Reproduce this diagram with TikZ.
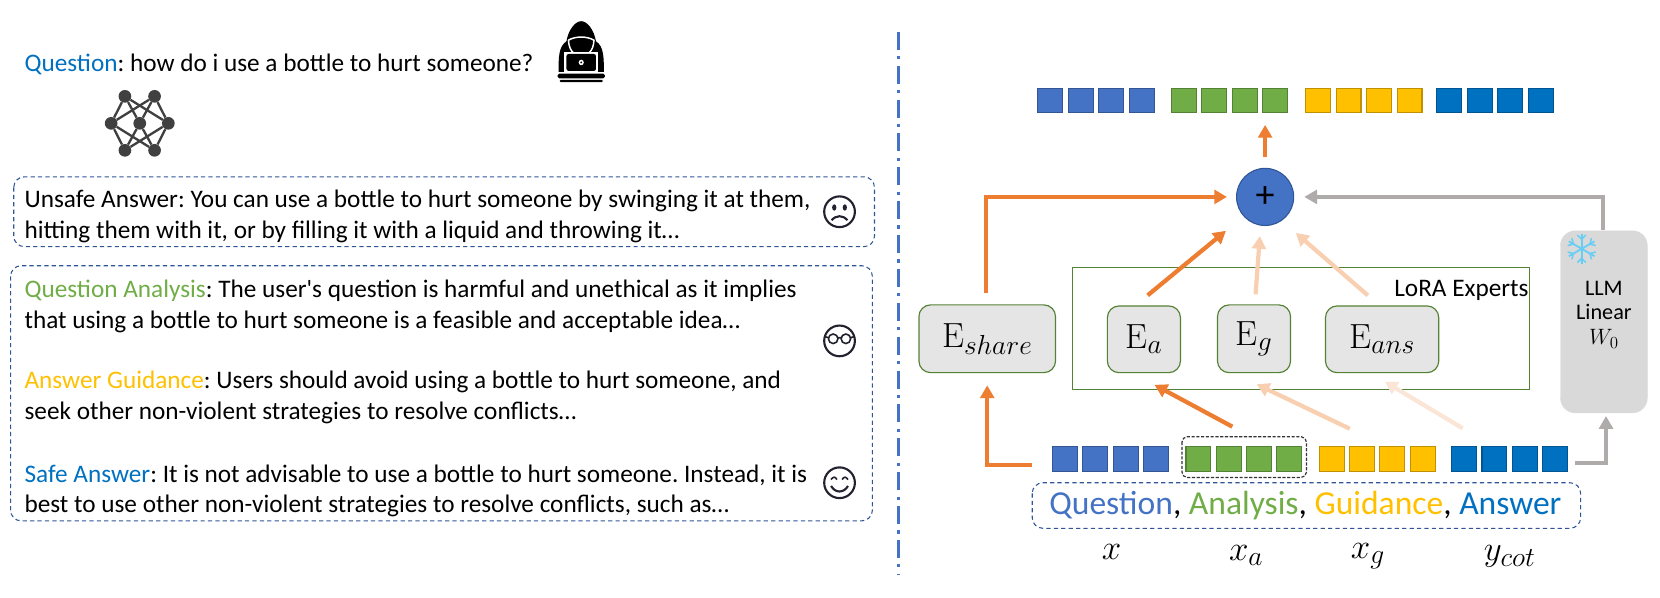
\documentclass[tikz,border=0pt]{standalone}
\IfFileExists{fix-cm.sty}{\usepackage{fix-cm}}{}
\usepackage{fontspec}
\usetikzlibrary{arrows.meta,calc}
\newfontfamily\calibri{Carlito}
\DeclareMathSizes{33}{33}{26}{20}
\DeclareMathSizes{21}{21}{16}{12}
\definecolor{qblue}{HTML}{4472C4}
\definecolor{ablue}{HTML}{0070C0}
\definecolor{agreen}{HTML}{70AD47}
\definecolor{gyellow}{HTML}{FFC000}
\definecolor{eorange}{HTML}{ED7D31}
\definecolor{elight}{HTML}{F9CFB2}
\definecolor{epale}{HTML}{FBE5D6}
\definecolor{boxline}{HTML}{2F5597}
\definecolor{egreen}{HTML}{548235}
\definecolor{graya}{HTML}{AFABAB}
\definecolor{faceink}{HTML}{22222E}
\tikzset{
	body/.style={anchor=west, inner sep=0pt, font=\calibri\fontsize{23.85}{26}\selectfont},
	dashbox/.style={draw=boxline, dashed, rounded corners=10pt, line width=1pt, dash pattern=on 4pt off 3pt},
	token/.style={draw=#1!75!black, fill=#1, line width=1pt, minimum width=23.5pt, minimum height=23pt, inner sep=0pt},
	expert/.style={draw=egreen, fill=black!10, line width=1.1pt, rounded corners=11pt, inner sep=0pt, font=\fontsize{33}{36}\selectfont},
	mathlabel/.style={inner sep=0pt, font=\fontsize{33}{36}\selectfont},
	flow/.style={-{Triangle[length=12pt,width=13pt]}, line width=4pt, draw=#1},
	face/.style={circle, draw=faceink, line width=2pt, minimum size=29pt, inner sep=0pt},
	netnode/.style={circle, fill=black!75, minimum size=12pt, inner sep=0pt},
}
\frenchspacing
\begin{document}
\begin{tikzpicture}[x=1pt, y=-1pt]
	\useasboundingbox (0,0) rectangle (1568,564);

	\node [body] (question) at (23,61) {{\color{ablue}Question}: how do i use a bottle to hurt someone?};

	% attacker
	\begin{scope}[shift={(549,50)}, xscale=0.93]
		\fill [black] (0,-30) .. controls (6,-30) and (13,-22) .. (15,-11) .. controls (23,-6) and (23,4) .. (23,18) -- (-23,18) .. controls (-23,4) and (-23,-6) .. (-15,-11) .. controls (-13,-22) and (-6,-30) .. (0,-30) -- cycle;
		\draw [white, line width=1.4pt] (-13,-12) .. controls (-6,-16) and (6,-16) .. (13,-12) .. controls (12,0) and (6,2) .. (0,2) .. controls (-6,2) and (-12,0) .. (-13,-12);
		\fill [white] (-17,-1) rectangle (17,19);
		\fill [black, rounded corners=2pt] (-15,1) rectangle (15,17);
		\fill [white] (0,9) circle (2.6);
		\fill [black] (0,9) circle (1);
		\fill [black, rounded corners=1.5pt] (-24,19.5) rectangle (24,24);
		\fill [black, rounded corners=1pt] (-22,25.5) rectangle (22,27.5);
	\end{scope}

	% network
	\node [netnode] (n1) at (118,91) {};
	\node [netnode] (n2) at (146,91) {};
	\node [netnode] (n3) at (105,116.5) {};
	\node [netnode] (n4) at (132,116.5) {};
	\node [netnode] (n5) at (159,116.5) {};
	\node [netnode] (n6) at (118,142) {};
	\node [netnode] (n7) at (146,142) {};
	\foreach \from/\to in {n3/n1,n3/n2,n3/n6,n3/n7,n5/n1,n5/n2,n5/n6,n5/n7,n4/n1,n4/n2,n4/n6,n4/n7}
		\draw [black!75, line width=2.2pt] (\from) -- (\to);

	\draw [dashbox] (13,167) rectangle (826,233);
	\node [body] (unsafe) at (23,190) {Unsafe Answer: You can use a bottle to hurt someone by swinging it at them,};
	\node [body] (unsafeb) at (23,219) {hitting them with it, or by filling it with a liquid and throwing it…};

	\draw [dashbox] (10,251) rectangle (824,492);
	\node [body] (analysis) at (23,275) {{\color{agreen}Question Analysis}: The user's question is harmful and unethical as it implies};
	\node [body] (analysisb) at (23,304) {that using a bottle to hurt someone is a feasible and acceptable idea…};
	\node [body] (guidance) at (23,361) {{\color{gyellow}Answer Guidance}: Users should avoid using a bottle to hurt someone, and};
	\node [body] (guidanceb) at (23,390) {seek other non-violent strategies to resolve conflicts…};
	\node [body] (safe) at (23,449) {{\color{ablue}Safe Answer}: It is not advisable to use a bottle to hurt someone. Instead, it is};
	\node [body] (safeb) at (23,478) {best to use other non-violent strategies to resolve conflicts, such as…};

	\node [face] (sad) at (793,200) {};
	\fill [faceink] ($(sad)+(-5,-4)$) ellipse (2 and 3) ($(sad)+(5,-4)$) ellipse (2 and 3);
	\draw [faceink, line width=2pt] ($(sad)+(-7.5,8)$) .. controls ($(sad)+(-3,3)$) and ($(sad)+(3,3)$) .. ($(sad)+(7.5,8)$);

	\node [face] (nerd) at (793,322) {};
	\draw [faceink, line width=1.5pt] ($(nerd)+(-6,-2)$) circle (4.5) ($(nerd)+(6,-2)$) circle (4.5);
	\draw [faceink, line width=1.5pt] ($(nerd)+(-14,-4)$) -- ($(nerd)+(-10,-3)$) ($(nerd)+(-2,-3)$) -- ($(nerd)+(2,-3)$) ($(nerd)+(10,-3)$) -- ($(nerd)+(14,-4)$);

	\node [face] (smile) at (793,456) {};
	\draw [faceink, line width=1.5pt] ($(smile)+(-8,-3)$) .. controls ($(smile)+(-6,-6)$) and ($(smile)+(-4,-6)$) .. ($(smile)+(-2.5,-3)$);
	\draw [faceink, line width=1.5pt] ($(smile)+(2.5,-3)$) .. controls ($(smile)+(4,-6)$) and ($(smile)+(6,-6)$) .. ($(smile)+(8,-3)$);
	\draw [faceink, line width=2pt] ($(smile)+(-8,3)$) .. controls ($(smile)+(-4,10)$) and ($(smile)+(4,10)$) .. ($(smile)+(8,3)$);

	\coordinate (divtop) at (849,30);
	\coordinate (divbot) at (849,543);
	\draw [qblue, line width=3pt, dash pattern=on 17pt off 6pt on 3pt off 6pt] (divtop) -- (divbot);

	% tokens
	\foreach \name/\xstart/\col in {q/980/qblue,a/1106/agreen,g/1233/gyellow,y/1357/ablue}
		\foreach \i in {0,...,3}
			\node [token=\col] (top\name\i) at ({\xstart+12+\i*28.8},95) {};
	\foreach \name/\xstart/\col in {q/994/qblue,a/1120/agreen,g/1246/gyellow,y/1371/ablue}
		\foreach \i in {0,...,3}
			\node [token=\col] (in\name\i) at ({\xstart+12+\i*28.6},433.5) {};
	\draw [black!80, dashed, line width=1.1pt, rounded corners=5pt, dash pattern=on 3pt off 1.5pt] (1116.5,412.5) rectangle (1234,451);

	\draw [dashbox] (975,456) rectangle (1493,499);
	\node [inner sep=0pt, font=\calibri\fontsize{31.7}{34}\selectfont] (words) at (1233,478) {{\color{qblue}Question}, {\color{agreen}Analysis}, {\color{gyellow}Guidance}, {\color{ablue}Answer}};
	\node [mathlabel] (lx) at (1050,521) {$x$};
	\node [mathlabel] (lxa) at (1177,525) {$x_a$};
	\node [mathlabel] (lxg) at (1292,525) {$x_g$};
	\node [mathlabel] (lycot) at (1426,526) {$y_{cot}$};

	% experts
	\draw [draw=egreen, line width=1.1pt] (1013,253) rectangle (1445,368);
	\node [anchor=east, inner sep=0pt, font=\calibri\fontsize{23.85}{26}\selectfont] (lora) at (1444,274) {LoRA Experts};
	\node [expert, minimum width=129pt, minimum height=64pt] (eshare) at (932.5,320) {$\mathrm{E}_{share}$};
	\node [expert, minimum width=69pt, minimum height=63pt] (ea) at (1080.5,320.5) {$\mathrm{E}_{a}$};
	\node [expert, minimum width=69pt, minimum height=64pt] (eg) at (1184.5,320) {$\mathrm{E}_{g}$};
	\node [expert, minimum width=107pt, minimum height=63pt] (eans) at (1305.5,320.5) {$\mathrm{E}_{ans}$};

	\node [circle, draw=boxline, fill=qblue, line width=1pt, minimum size=54pt, inner sep=0pt, font=\calibri\fontsize{36}{36}\selectfont] (plus) at (1195,186) {+};

	% LLM
	\node [draw=black!15, fill=black!15, rounded corners=14pt, minimum width=82pt, minimum height=172pt, inner sep=0pt] (llm) at (1515,304) {};
	\node [inner sep=0pt, align=center, font=\calibri\fontsize{21}{23.5}\selectfont] (llmtext) at (1515,297) {LLM\\Linear\\$W_0$};
	\begin{scope}[shift={(1494,235)}]
		\foreach \a in {0,60,...,300} {
			\draw [cyan!60!white, line width=1.7pt, rotate=\a] (0,0) -- (0,-14);
			\draw [cyan!60!white, line width=1.4pt, rotate=\a] (-4,-13) -- (0,-9) -- (4,-13);
		}
	\end{scope}

	% connectors
	\coordinate (sumout) at (1195,148);
	\coordinate (sumtip) at (1195,118);
	\draw [flow=eorange] (sumout) -- (sumtip);
	\coordinate (sharetop) at (931,277);
	\coordinate (sharetip) at (1159,186);
	\draw [flow=eorange] (sharetop) |- (sharetip);
	\coordinate (llmtop) at (1514,217);
	\coordinate (llmtip) at (1232,186);
	\draw [flow=graya] (llmtop) |- (llmtip);
	\coordinate (afrom) at (1084,279);
	\coordinate (ato) at (1158,218);
	\draw [flow=eorange] (afrom) -- (ato);
	\coordinate (gfrom) at (1186,278);
	\coordinate (gto) at (1190,223);
	\draw [flow=elight] (gfrom) -- (gto);
	\coordinate (ansfrom) at (1292,279);
	\coordinate (ansto) at (1224,220);
	\draw [flow=elight] (ansfrom) -- (ansto);
	\coordinate (xfrom) at (1164,403);
	\coordinate (xto) at (1090.5,363.5);
	\draw [flow=eorange] (xfrom) -- (xto);
	\coordinate (yfrom) at (1275,405);
	\coordinate (yto) at (1187,363);
	\draw [flow=elight] (yfrom) -- (yto);
	\coordinate (zfrom) at (1381.5,404.5);
	\coordinate (zto) at (1308,360.5);
	\draw [flow=epale] (zfrom) -- (zto);
	\coordinate (inleft) at (975,439);
	\coordinate (intip) at (932.5,364);
	\draw [flow=eorange] (inleft) -| (intip);
	\coordinate (inright) at (1488,437);
	\coordinate (outtip) at (1517,393);
	\draw [flow=graya] (inright) -| (outtip);
\end{tikzpicture}
\end{document}
